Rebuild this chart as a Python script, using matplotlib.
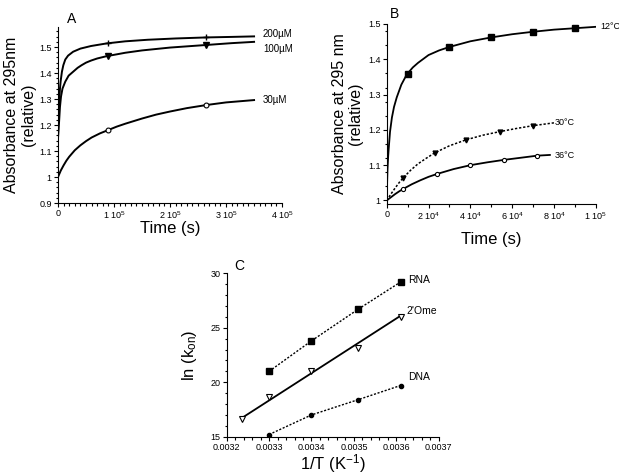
"""Three-panel kinetics figure: absorbance traces (A, B) and Arrhenius plot (C)."""
import matplotlib
matplotlib.use("Agg")
import matplotlib.pyplot as plt
from matplotlib.ticker import MultipleLocator

plt.rcParams["font.family"] = ["Liberation Sans", "DejaVu Sans"]
plt.rcParams["mathtext.fontset"] = "custom"
plt.rcParams["mathtext.rm"] = "Liberation Sans"
plt.rcParams["mathtext.it"] = "Liberation Sans:italic"

# panel A: absorbance vs time at three concentrations
a_t200 = [0, 1e3, 2.4e3, 3.5e3, 4.8e3, 7e3, 9.5e3, 1.3e4, 1.8e4, 2.7e4, 4e4, 5.9e4, 8.7e4,
          1.2e5, 1.6e5, 2.1e5, 2.65e5, 3.1e5, 3.5e5]
a_v200 = [1.20, 1.25, 1.30, 1.34, 1.37, 1.405, 1.43, 1.452, 1.467, 1.482, 1.494, 1.504, 1.514,
          1.522, 1.528, 1.533, 1.537, 1.539, 1.541]
a_t100 = [0, 1e3, 2.4e3, 3.5e3, 5.4e3, 8e3, 1.3e4, 1.9e4, 2.7e4, 3.5e4, 4.2e4, 5e4, 5.9e4, 7e4,
          8.7e4, 1.05e5, 1.2e5, 1.5e5, 2e5, 2.65e5, 3.1e5, 3.5e5]
a_v100 = [1.15, 1.18, 1.23, 1.27, 1.31, 1.34, 1.367, 1.39, 1.405, 1.420, 1.430, 1.440, 1.448, 1.456,
          1.465, 1.472, 1.478, 1.487, 1.498, 1.508, 1.515, 1.520]
a_t30 = [0, 5e3, 1e4, 1.5e4, 2e4, 3e4, 4e4, 5e4, 6e4, 7.5e4, 9e4, 1.05e5, 1.2e5, 1.5e5, 1.75e5,
         2e5, 2.3e5, 2.65e5, 3e5, 3.5e5]
a_v30 = [1.0, 1.025, 1.045, 1.063, 1.078, 1.103, 1.122, 1.138, 1.152, 1.168, 1.181, 1.194, 1.205,
         1.225, 1.240, 1.252, 1.265, 1.277, 1.287, 1.296]
a_mark_t = [0.9e5, 2.65e5]
a_mark200 = [1.516, 1.537]
a_mark100 = [1.466, 1.508]
a_mark30 = [1.181, 1.277]
a_labels = ["200µM", "100µM", "30µM"]
a_label_y = [1.550, 1.492, 1.296]

# panel B: absorbance vs time at three temperatures
b_t12 = [0, 200, 400, 700, 1e3, 1.6e3, 2.5e3, 3.5e3, 4.8e3, 7e3, 9.6e3, 1.25e4, 1.5e4, 2e4, 2.5e4,
         3e4, 4e4, 5e4, 6e4, 7e4, 8e4, 9e4, 1e5]
b_v12 = [1.0, 1.05, 1.09, 1.125, 1.15, 1.195, 1.235, 1.265, 1.292, 1.328, 1.357, 1.377, 1.39, 1.412,
         1.425, 1.435, 1.451, 1.462, 1.471, 1.478, 1.484, 1.488, 1.492]
b_m12_t = [1e4, 3e4, 5e4, 7e4, 9e4]
b_m12_v = [1.357, 1.435, 1.462, 1.478, 1.488]
b_t30 = [0, 2e3, 4e3, 6e3, 8e3, 1.15e4, 1.5e4, 1.9e4, 2.3e4, 3e4, 3.8e4, 4.6e4, 5.4e4, 6.2e4, 7e4, 8e4]
b_v30 = [1.0, 1.018, 1.035, 1.051, 1.065, 1.086, 1.104, 1.120, 1.135, 1.155, 1.172, 1.185, 1.195,
         1.204, 1.212, 1.220]
b_m30_t = [8e3, 2.3e4, 3.8e4, 5.4e4, 7e4]
b_m30_v = [1.065, 1.135, 1.172, 1.195, 1.212]
b_t36 = [0, 2e3, 4e3, 6e3, 8e3, 1.2e4, 1.6e4, 2e4, 2.4e4, 3.2e4, 4e4, 4.8e4, 5.6e4, 6.4e4, 7.2e4, 7.8e4]
b_v36 = [1.0, 1.009, 1.018, 1.026, 1.033, 1.046, 1.057, 1.067, 1.075, 1.089, 1.100, 1.108, 1.115,
         1.121, 1.127, 1.129]
b_m36_t = [8e3, 2.4e4, 4e4, 5.6e4, 7.2e4]
b_m36_v = [1.033, 1.075, 1.100, 1.115, 1.127]
b_labels = ["12°C", "30°C", "36°C"]
b_label_pos = [(1.02e5, 1.494), (8.05e4, 1.222), (8.05e4, 1.128)]

# panel C: ln(k_on) vs 1/T
c_x = [0.00330, 0.00340, 0.00351, 0.00361]
c_rna = [21.0, 23.8, 26.7, 29.2]
c_dna = [15.2, 17.0, 18.4, 19.7]
c_ome_x = [0.003235, 0.00330, 0.00340, 0.00351, 0.00361]
c_ome = [16.6, 18.6, 21.0, 23.1, 26.0]
c_fit_x = [0.003235, 0.00361]
c_fit_y = [16.7, 26.1]
c_labels = ["RNA", "2'Ome", "DNA"]
c_label_pos = [(0.003628, 29.35), (0.003625, 26.5), (0.003628, 20.5)]

DOT = (0, (1.5, 1.2))
TICK_FS = 6.5


def style_axes(ax):
    for side in ("top", "right"):
        ax.spines[side].set_visible(False)
    ax.tick_params(which="both", direction="out", labelsize=TICK_FS, width=0.8, pad=1.5)
    ax.tick_params(which="major", length=3)
    ax.tick_params(which="minor", length=1.8)


fig = plt.figure(figsize=(6.19, 4.75), dpi=100)

# ---- A
ax = fig.add_axes([0.0937, 0.5726, 0.362, 0.3705])
style_axes(ax)
ax.plot(a_t200, a_v200, color="black", lw=1.4)
ax.plot(a_t100, a_v100, color="black", lw=1.4)
ax.plot(a_t30, a_v30, color="black", lw=1.4)
ax.plot(a_mark_t, a_mark200, ls="none", marker="+", ms=5, color="black", mew=1)
ax.plot(a_mark_t, a_mark100, ls="none", marker="v", ms=4, color="black")
ax.plot(a_mark_t, a_mark30, ls="none", marker="o", ms=3.5, mfc="white", mec="black", mew=0.8)
for label, y in zip(a_labels, a_label_y):
    ax.text(3.66e5, y, label, fontsize=7, va="center", ha="left")
ax.set_xlim(0, 4e5)
ax.set_ylim(0.9, 1.577)
ax.set_xticks([0, 1e5, 2e5, 3e5, 4e5], ["0", "1 10$^{5}$", "2 10$^{5}$", "3 10$^{5}$", "4 10$^{5}$"])
ax.set_yticks([0.9, 1.0, 1.1, 1.2, 1.3, 1.4, 1.5], ["0.9", "1", "1.1", "1.2", "1.3", "1.4", "1.5"])
ax.xaxis.set_minor_locator(MultipleLocator(1e4))
ax.yaxis.set_minor_locator(MultipleLocator(0.02))
ax.set_xlabel("Time (s)", fontsize=12, labelpad=0)
ax.set_ylabel("Absorbance at 295nm\n(relative)", fontsize=11.5, linespacing=1.1)
ax.yaxis.set_label_coords(-0.10, 0.5)
fig.text(0.108, 0.975, "A", fontsize=10, va="top")

# ---- B
ax = fig.add_axes([0.6247, 0.5705, 0.338, 0.379])
style_axes(ax)
ax.plot(b_t12, b_v12, color="black", lw=1.3)
ax.plot(b_t30, b_v30, color="black", lw=1.1, ls=DOT)
ax.plot(b_t36, b_v36, color="black", lw=1.3)
ax.plot(b_m12_t, b_m12_v, ls="none", marker="s", ms=4.5, color="black")
ax.plot(b_m30_t, b_m30_v, ls="none", marker="v", ms=3.5, color="black")
ax.plot(b_m36_t, b_m36_v, ls="none", marker="o", ms=3, mfc="white", mec="black", mew=0.8)
for label, (x, y) in zip(b_labels, b_label_pos):
    ax.text(x, y, label, fontsize=6.5, va="center", ha="left", clip_on=False)
ax.set_xlim(0, 1e5)
ax.set_ylim(0.99, 1.5)
ax.set_xticks([0, 2e4, 4e4, 6e4, 8e4, 1e5],
              ["0", "2 10$^{4}$", "4 10$^{4}$", "6 10$^{4}$", "8 10$^{4}$", "1 10$^{5}$"])
ax.set_yticks([1.0, 1.1, 1.2, 1.3, 1.4, 1.5], ["1", "1.1", "1.2", "1.3", "1.4", "1.5"])
ax.xaxis.set_minor_locator(MultipleLocator(1e4))
ax.yaxis.set_minor_locator(MultipleLocator(0.04))
ax.set_xlabel("Time (s)", fontsize=12, labelpad=7)
ax.set_ylabel("Absorbance at 295 nm\n(relative)", fontsize=11.5, linespacing=1.1)
ax.yaxis.set_label_coords(-0.113, 0.5)
fig.text(0.630, 0.985, "B", fontsize=10, va="top")

# ---- C
ax = fig.add_axes([0.3662, 0.0806, 0.3425, 0.344])
style_axes(ax)
ax.plot(c_x, c_rna, color="black", lw=1.0, ls=DOT, marker="s", ms=4.5)
ax.plot(c_fit_x, c_fit_y, color="black", lw=1.3)
ax.plot(c_ome_x, c_ome, ls="none", marker="v", ms=4, mfc="white", mec="black", mew=0.8)
ax.plot(c_x, c_dna, color="black", lw=1.0, ls=DOT, marker="o", ms=3)
for label, (x, y) in zip(c_labels, c_label_pos):
    ax.text(x, y, label, fontsize=7.5, va="center", ha="left", clip_on=False)
ax.set_xlim(0.0032, 0.0037)
ax.set_ylim(15, 30)
ax.set_xticks([0.0032, 0.0033, 0.0034, 0.0035, 0.0036, 0.0037],
              ["0.0032", "0.0033", "0.0034", "0.0035", "0.0036", "0.0037"])
ax.set_yticks([15, 20, 25, 30])
ax.xaxis.set_minor_locator(MultipleLocator(0.00002))
ax.yaxis.set_minor_locator(MultipleLocator(1))
ax.set_xlabel("1/T (K$^{-1}$)", fontsize=12, labelpad=0)
ax.set_ylabel("ln (k$_{\\mathrm{on}}$)", fontsize=12)
ax.yaxis.set_label_coords(-0.13, 0.5)
fig.text(0.378, 0.455, "C", fontsize=10, va="top")

fig.savefig("out.png", dpi=100)
